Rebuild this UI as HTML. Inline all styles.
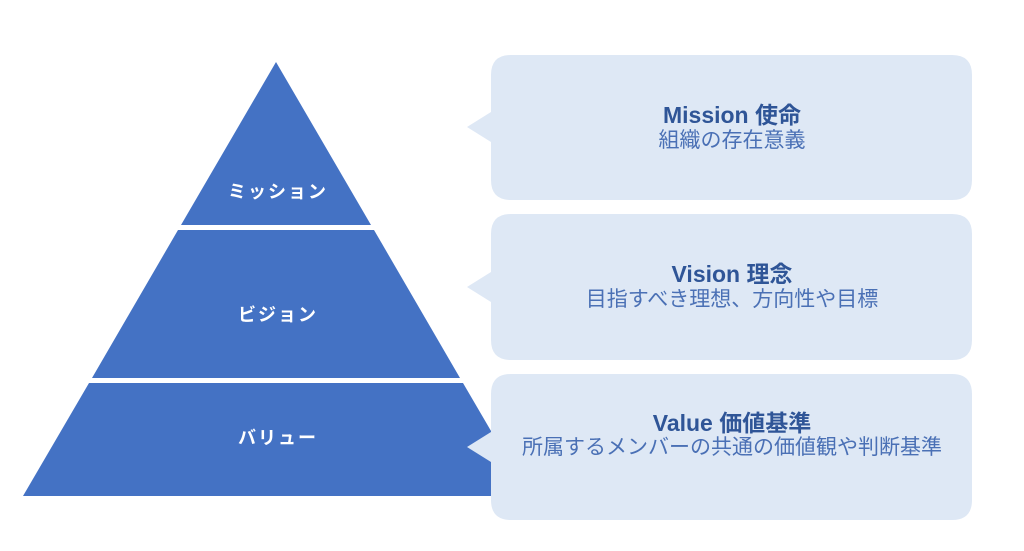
<!DOCTYPE html>
<html><head><meta charset="utf-8"><style>
html,body{margin:0;padding:0;background:#fff;}
svg{display:block;}
.lbl{font-family:"Liberation Sans","Noto Sans CJK JP",sans-serif;font-weight:bold;font-size:18px;fill:#fff;letter-spacing:2px;}
.ttl{font-family:"Liberation Sans","Noto Sans CJK JP",sans-serif;font-weight:bold;font-size:23px;fill:#2F5597;}
.sub{font-family:"Liberation Sans","Noto Sans CJK JP",sans-serif;font-size:21px;fill:#4A70B5;}
</style></head><body>
<svg width="1024" height="551" viewBox="0 0 1024 551" xmlns="http://www.w3.org/2000/svg">
<rect width="1024" height="551" fill="#fff"/>
<polygon points="276,62 371,225 181,225" fill="#4472C4"/>
<polygon points="178,230 374,230 460,378 92,378" fill="#4472C4"/>
<polygon points="89,383 463,383 529,496 23,496" fill="#4472C4"/>
<text class="lbl" x="278" y="198" text-anchor="middle">ミッション</text>
<text class="lbl" x="278" y="321" text-anchor="middle">ビジョン</text>
<text class="lbl" x="278" y="444" text-anchor="middle">バリュー</text>

<path d="M511,55 H952 Q972,55 972,75 V180 Q972,200 952,200 H511 Q491,200 491,180 V142 L467,127 L491,112 V75 Q491,55 511,55 Z" fill="#DEE8F5"/>
<path d="M511,214 H952 Q972,214 972,234 V340 Q972,360 952,360 H511 Q491,360 491,340 V302 L467,287 L491,272 V234 Q491,214 511,214 Z" fill="#DEE8F5"/>
<path d="M511,374 H952 Q972,374 972,394 V500 Q972,520 952,520 H511 Q491,520 491,500 V462 L467,447 L491,432 V394 Q491,374 511,374 Z" fill="#DEE8F5"/>

<text class="ttl" x="732" y="123" text-anchor="middle">Mission 使命</text>
<text class="sub" x="732" y="147" text-anchor="middle">組織の存在意義</text>
<text class="ttl" x="732" y="282" text-anchor="middle">Vision 理念</text>
<text class="sub" x="732" y="306" text-anchor="middle">目指すべき理想、方向性や目標</text>
<text class="ttl" x="732" y="431" text-anchor="middle">Value 価値基準</text>
<text class="sub" x="732" y="454" text-anchor="middle">所属するメンバーの共通の価値観や判断基準</text>
</svg>
</body></html>
